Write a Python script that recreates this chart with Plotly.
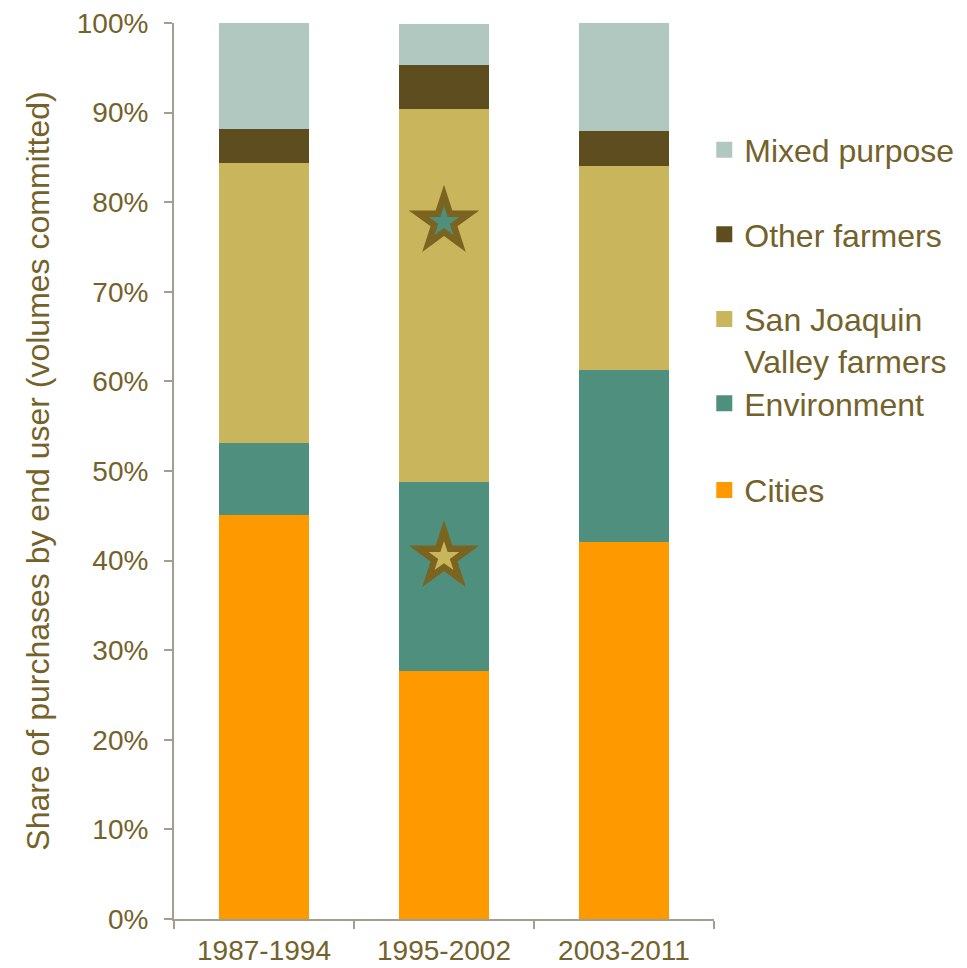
import plotly.graph_objects as go

# Periods and share of purchases (% of volumes committed) by end user
periods = ["1987-1994", "1995-2002", "2003-2011"]
cities = [45.1, 27.7, 42.1]
environment = [8.0, 21.1, 19.2]
sjv_farmers = [31.3, 41.6, 22.7]
other_farmers = [3.8, 4.9, 3.9]
mixed_purpose = [11.8, 4.6, 12.1]

series_names = ["Cities", "Environment", "San Joaquin<br>Valley farmers",
                "Other farmers", "Mixed purpose"]
series_values = [cities, environment, sjv_farmers, other_farmers, mixed_purpose]
series_colors = ["#FF9900", "#4F8F7E", "#C9B55B", "#5E4E1F", "#B1C8C1"]
# upper three keys in the first legend block, lower two in the second
legend_block = ["legend2", "legend2", "legend", "legend", "legend"]

# Star markers highlighting the 1995-2002 period
star_period = ["1995-2002", "1995-2002"]
star_y = [77.8, 40.4]
star_fill = ["#4F8F7E", "#C9B55B"]

text_color = "#74622A"
axis_color = "#A39E8E"
font_family = "Arial, Liberation Sans, sans-serif"

fig = go.Figure()

for name, vals, col in zip(series_names, series_values, series_colors):
    fig.add_trace(go.Bar(
        x=periods, y=vals, name=name,
        marker=dict(color=col, line=dict(width=0)),
        width=0.5, showlegend=False,
    ))

# Legend keys (square markers give larger keys than bar keys),
# listed top-down in the same order as the stack
order = list(range(len(series_names)))[::-1]
for i in order:
    fig.add_trace(go.Scatter(
        x=[None], y=[None], mode="markers", name=series_names[i],
        marker=dict(symbol="square", size=16, color=series_colors[i]),
        legendgroup=f"g{i}", legend=legend_block[i], showlegend=True,
    ))

fig.add_trace(go.Scatter(
    x=star_period, y=star_y, mode="markers",
    marker=dict(symbol="star", size=53, color="#7A6420", line=dict(width=0)),
    showlegend=False, hoverinfo="skip",
))
fig.add_trace(go.Scatter(
    x=star_period, y=star_y, mode="markers",
    marker=dict(symbol="star", size=23, color=star_fill, line=dict(width=0)),
    showlegend=False, hoverinfo="skip",
))

legend_style = dict(
    x=0.982, xanchor="left", yanchor="top",
    traceorder="grouped",
    font=dict(size=32, color=text_color),
    valign="top", itemwidth=30,
    bgcolor="rgba(0,0,0,0)",
)

fig.update_layout(
    width=967, height=968,
    barmode="stack",
    plot_bgcolor="white", paper_bgcolor="white",
    margin=dict(l=174, r=253, t=23, b=49, autoexpand=False),
    font=dict(family=font_family, color=text_color, size=28),
    legend=dict(y=0.889, tracegroupgap=40, **legend_style),
    legend2=dict(y=0.606, tracegroupgap=42, **legend_style),
)

fig.update_xaxes(
    type="category",
    showline=True, linecolor=axis_color, linewidth=2,
    ticks="outside", tickson="boundaries", ticklen=8,
    tickcolor=axis_color, tickwidth=2,
    tickfont=dict(size=28, color=text_color),
    ticklabelstandoff=5,
    showgrid=False,
)
fig.update_yaxes(
    range=[0, 100], dtick=10, ticksuffix="%",
    showline=True, linecolor=axis_color, linewidth=2,
    ticks="outside", ticklen=8, tickcolor=axis_color, tickwidth=2,
    tickfont=dict(size=28, color=text_color),
    ticklabelstandoff=10,
    showgrid=False, zeroline=False,
    title=dict(text="Share of purchases by end user (volumes committed)",
               font=dict(size=32, color=text_color), standoff=18),
)

fig.write_html("out.html")
